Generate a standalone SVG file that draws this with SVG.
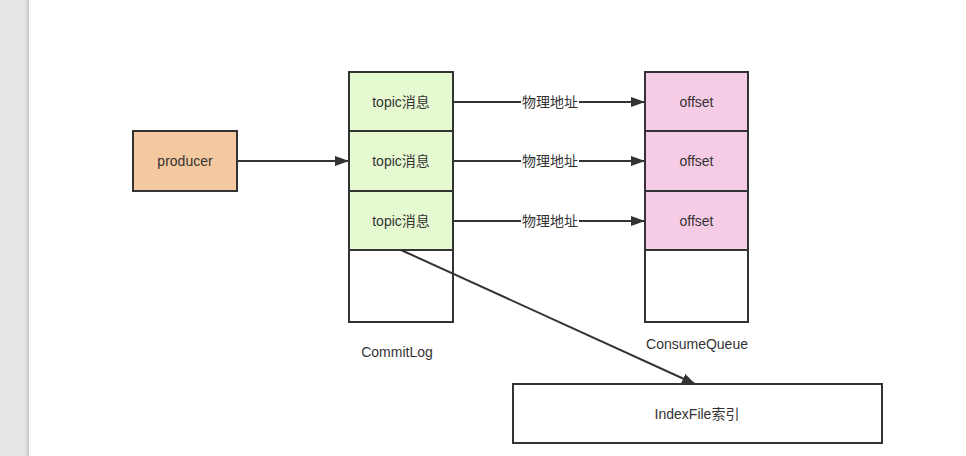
<svg xmlns="http://www.w3.org/2000/svg" width="966" height="456" viewBox="0 0 966 456">
<style>
.t{font-family:"Liberation Sans","Noto Sans CJK SC",sans-serif;font-size:14px;fill:#333;text-anchor:middle;dominant-baseline:central}
.b{stroke:#333;stroke-width:2}
.c{stroke:#333;stroke-width:2;fill:none}
</style>
<defs>
<marker id="ah" markerWidth="14" markerHeight="10" refX="13" refY="5" orient="auto" markerUnits="userSpaceOnUse">
<path d="M0,0 L14,5 L0,10 Z" fill="#333"/>
</marker>
<linearGradient id="sh" x1="0" x2="1">
<stop offset="0" stop-color="#e5e5e5"/>
<stop offset="1" stop-color="#c4c4c4"/>
</linearGradient>
</defs>
<rect x="0" y="0" width="966" height="456" fill="#fff"/>
<rect x="0" y="0" width="25" height="456" fill="#e5e5e5"/>
<rect x="25" y="0" width="4" height="456" fill="url(#sh)"/>
<g id="producer">
<rect class="b" x="133" y="131" width="104" height="60" fill="#f5c9a0"/>
<text class="t" x="185" y="161">producer</text>
</g>
<g id="commitlog">
<rect class="b" x="349" y="72" width="104" height="59" fill="#e6fad2"/>
<text class="t" x="401" y="101.5">topic消息</text>
<rect class="b" x="349" y="131" width="104" height="60" fill="#e6fad2"/>
<text class="t" x="401" y="161">topic消息</text>
<rect class="b" x="349" y="191" width="104" height="59" fill="#e6fad2"/>
<text class="t" x="401" y="220.5">topic消息</text>
<rect class="b" x="349" y="250" width="104" height="72" fill="#fff"/>
<text class="t" x="397" y="352">CommitLog</text>
</g>
<g id="consumequeue">
<rect class="b" x="645" y="72" width="103" height="59" fill="#f5cbe5"/>
<text class="t" x="696.5" y="101.5">offset</text>
<rect class="b" x="645" y="131" width="103" height="60" fill="#f5cbe5"/>
<text class="t" x="696.5" y="161">offset</text>
<rect class="b" x="645" y="191" width="103" height="59" fill="#f5cbe5"/>
<text class="t" x="696.5" y="220.5">offset</text>
<rect class="b" x="645" y="250" width="103" height="72" fill="#fff"/>
<text class="t" x="697" y="344">ConsumeQueue</text>
</g>
<g id="indexfile">
<rect class="b" x="513" y="384" width="369" height="59" fill="#fff"/>
<text class="t" x="697" y="414">IndexFile索引</text>
</g>
<g id="connectors">
<path class="c" d="M237,161 L348,161" marker-end="url(#ah)"/>
<path class="c" d="M453,102 L521,102 M579,102 L644,102" marker-end="url(#ah)"/>
<path class="c" d="M453,161 L521,161 M579,161 L644,161" marker-end="url(#ah)"/>
<path class="c" d="M453,221 L521,221 M579,221 L644,221" marker-end="url(#ah)"/>
<text class="t" x="550" y="102">物理地址</text>
<text class="t" x="550" y="161">物理地址</text>
<text class="t" x="550" y="221">物理地址</text>
<path class="c" d="M401,250 L695,384" marker-end="url(#ah)"/>
</g>
</svg>
